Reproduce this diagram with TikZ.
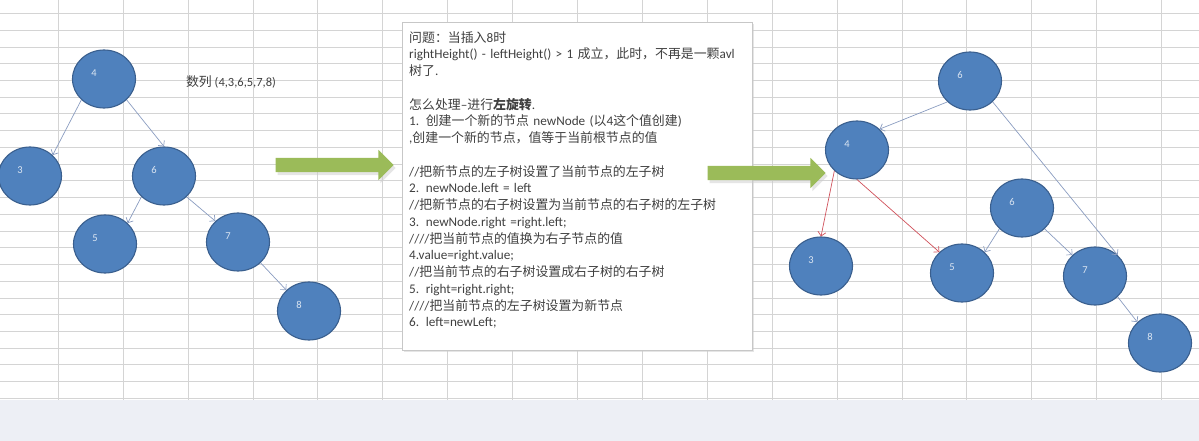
\documentclass[tikz,border=0pt]{standalone}
\usepackage{fontspec}
\setmainfont{Carlito}
\newfontfamily\zhfont{Noto Sans CJK SC}
\newcommand\zhtxt[1]{{\zhfont\fontsize{12.9}{16.75}\selectfont #1}}
\usetikzlibrary{arrows.meta,shapes.geometric,shapes.arrows,shadows}
\definecolor{cellline}{HTML}{D4D4D4}
\definecolor{barbg}{HTML}{EDEFF5}
\definecolor{nodefill}{HTML}{4F81BD}
\definecolor{nodeedge}{HTML}{3A5F8E}
\definecolor{linkblue}{HTML}{8A9CC0}
\definecolor{linkred}{HTML}{D0505A}
\definecolor{greenfill}{HTML}{9BBB59}
\definecolor{memotext}{HTML}{404040}

\begin{document}
\begin{tikzpicture}[x=1pt, y=-1pt,
      treenode/.style={ellipse, draw=nodeedge, line width=1.1pt,
        fill=nodefill, minimum width=63pt, minimum height=58pt, inner sep=0pt},
      num/.style={text=white!80!nodefill, font=\fontsize{10.5}{10.5}\selectfont,
        xshift=-10pt, yshift=6pt},
      link/.style={-{Straight Barb[length=4pt,width=8pt]}, draw=linkblue,
        line width=0.7pt},
      redlink/.style={link, draw=linkred},
      bigarrow/.style={single arrow, fill=greenfill, draw=none,
        minimum height=118pt, minimum width=30pt, inner sep=7pt,
        single arrow head extend=8pt,
        drop shadow={shadow xshift=2pt, shadow yshift=-3pt, fill=black!20}},
      memo/.style={draw=black!22, fill=white, minimum width=350pt,
        minimum height=328pt, inner sep=0pt,
        drop shadow={shadow xshift=1.5pt, shadow yshift=-1.5pt, fill=black!20}},
      note/.style={text=memotext, align=left, inner sep=0pt,
        font=\fontsize{13.2}{16.75}\selectfont}
    ]
    \useasboundingbox (0,0) rectangle (1199,441);

    % sheet cells
    \fill[barbg] (0,400) rectangle (1199,441);
    \foreach \gy in {0,...,23}
      \draw[cellline] (0,{13.3+16.73*\gy}) -- (1199,{13.3+16.73*\gy});
    \foreach \gx in {0,...,17}
      \draw[cellline] ({58+64.9*\gx},0) -- ({58+64.9*\gx},400);

    % tree before rotation
    \node[treenode, label={[num]center:4}] (a4) at (104,79) {};
    \node[treenode, label={[num]center:3}] (a3) at (30,176) {};
    \node[treenode, label={[num]center:6}] (a6) at (164,176) {};
    \node[treenode, label={[num]center:5}] (a5) at (105,244) {};
    \node[treenode, label={[num]center:7}] (a7) at (238,242) {};
    \node[treenode, label={[num]center:8}] (a8) at (309,311) {};
    \node[note, font=\fontsize{12.5}{13}\selectfont] (seq) at (231,82)
      {\zhtxt{数列} (4,3,6,5,7,8)};

    \draw[link] (a4.south west) -- (a3.north east);
    \draw[link] (a4.south east) -- (a6.north);
    \draw[link] (a6.south west) -- (a5.north east);
    \draw[link] (a6.south east) -- (a7.north west);
    \draw[link] (a7.south east) -- (a8.north west);

    \node[bigarrow] (go1) at (331,165) {};

    % steps of the left rotation
    \node[memo, anchor=north west] (memo) at (402,22) {};
    \node[note, text width=345pt, anchor=north west] (steps)
      at ([shift={(7pt,-9pt)}]memo.north west)
      {\zhtxt{问题：当插入}8\zhtxt{时}\\
       rightHeight() - leftHeight() > 1 \zhtxt{成立，此时，不再是一颗}avl\\
       \zhtxt{树了}.\\
       \mbox{}\\
       \zhtxt{怎么处理}--\zhtxt{进行}\textbf{\zhtxt{左旋转}}.\\
       1. \zhtxt{创建一个新的节点} newNode (\zhtxt{以}4\zhtxt{这个值创建})\\
       ,\zhtxt{创建一个新的节点，值等于当前根节点的值}\\
       \mbox{}\\
       //\zhtxt{把新节点的左子树设置了当前节点的左子树}\\
       2. newNode.left = left\\
       //\zhtxt{把新节点的右子树设置为当前节点的右子树的左子树}\\
       3. newNode.right =right.left;\\
       ////\zhtxt{把当前节点的值换为右子节点的值}\\
       4.value=right.value;\\
       //\zhtxt{把当前节点的右子树设置成右子树的右子树}\\
       5. right=right.right;\\
       ////\zhtxt{把当前节点的左子树设置为新节点}\\
       6. left=newLeft;};

    \node[bigarrow] (go2) at (763,173) {};

    % tree after rotation
    \node[treenode, label={[num]center:6}] (b6) at (970,81) {};
    \node[treenode, label={[num]center:4}] (b4) at (857,150) {};
    \node[treenode, label={[num]center:6}] (c6) at (1022,208) {};
    \node[treenode, label={[num]center:3}] (b3) at (821,266) {};
    \node[treenode, label={[num]center:5}] (b5) at (962,273) {};
    \node[treenode, label={[num]center:7}] (b7) at (1095,276) {};
    \node[treenode, label={[num]center:8}] (b8) at (1160,343) {};

    \draw[link] (b6.south west) -- (b4.north east);
    \draw[link] (b6.south east) -- (b7.north east);
    \draw[redlink] (b4.south west) -- (b3.north);
    \draw[redlink] (b4.south) -- (b5.north west);
    \draw[link] (c6.south west) -- (b5.north east);
    \draw[link] (c6.south east) -- (b7.north west);
    \draw[link] (b7.south east) -- (b8.north west);
  \end{tikzpicture}
\end{document}
